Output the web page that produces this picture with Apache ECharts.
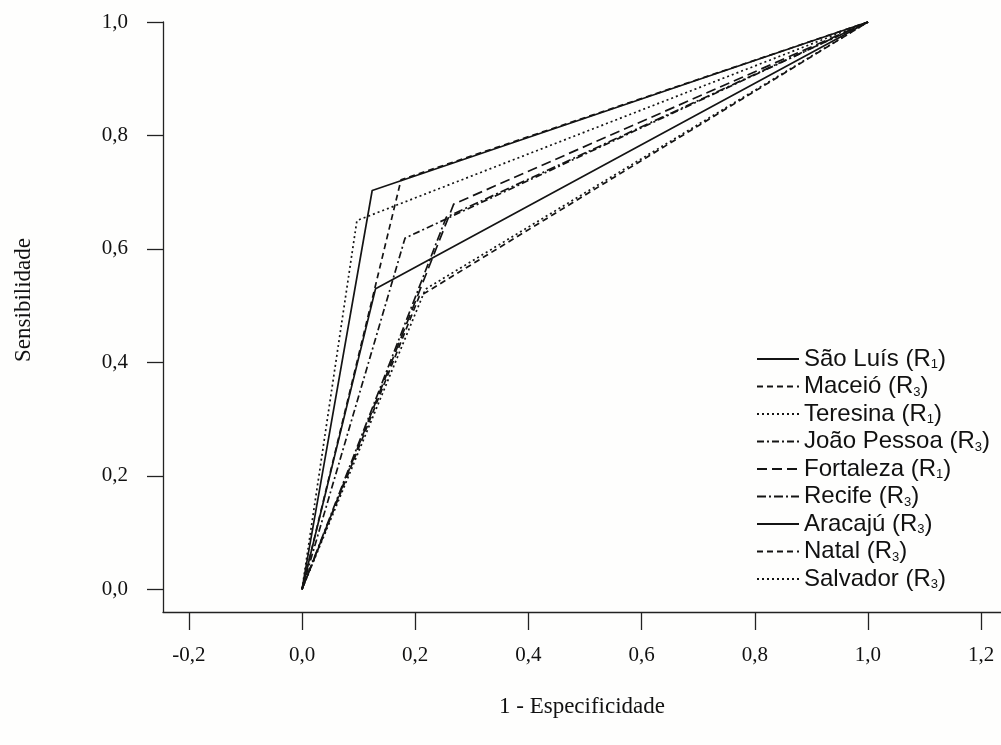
<!DOCTYPE html>
<html>
<head>
<meta charset="utf-8">
<script src="https://cdn.jsdelivr.net/npm/echarts@6/dist/echarts.min.js"></script>
<style>
  html, body { margin: 0; padding: 0; background: #fefefd; }
  #chart { width: 1001px; height: 745px; }
</style>
</head>
<body>
<div id="chart"></div>
<script>
// ROC curves (one cut-off point each) per capital city
const cities = ['São Luís', 'Maceió', 'Teresina', 'João Pessoa', 'Fortaleza', 'Recife', 'Aracajú', 'Natal', 'Salvador'];
const regionIndex = ['1', '3', '1', '3', '1', '3', '3', '3', '3'];
const oneMinusSpecificity = [0.124, 0.175, 0.097, 0.182, 0.268, 0.255, 0.130, 0.207, 0.218];
const sensitivity = [0.703, 0.722, 0.650, 0.619, 0.679, 0.656, 0.530, 0.516, 0.529];
const xTicks = [-0.2, 0.0, 0.2, 0.4, 0.6, 0.8, 1.0, 1.2];
const yTicks = [0.0, 0.2, 0.4, 0.6, 0.8, 1.0];

// line dash pattern per city
const dashes = [
  'solid',
  [6, 4],
  [2, 3],
  [7, 3, 2, 3],
  [10, 5],
  [9, 3, 2, 3],
  'solid',
  [6, 4],
  [2, 3]
];

const ink = '#141414';
const comma = v => v.toFixed(1).replace('.', ',');

const series = cities.map((c, i) => ({
  name: c + ' (R' + regionIndex[i] + ')',
  type: 'line',
  symbol: 'none',
  animation: false,
  lineStyle: { color: ink, width: 1.7, type: dashes[i] },
  itemStyle: { color: ink },
  data: [[0, 0], [oneMinusSpecificity[i], sensitivity[i]], [1, 1]]
}));

const chart = echarts.init(document.getElementById('chart'), null, { renderer: 'canvas' });
chart.setOption({
  backgroundColor: '#fefefd',
  animation: false,
  grid: { left: 163, right: 0, top: 22, bottom: 133, containLabel: false },
  xAxis: {
    type: 'value',
    min: -0.2456,
    max: 1.235,
    name: '1 - Especificidade',
    nameLocation: 'middle',
    nameGap: 83,
    nameTextStyle: { fontFamily: 'Liberation Serif', fontSize: 23, color: '#111' },
    axisLine: { show: true, onZero: false, lineStyle: { color: '#222', width: 1.3 } },
    axisTick: { show: true, customValues: xTicks, length: 18, lineStyle: { color: '#222', width: 1.3 } },
    axisLabel: { customValues: xTicks, formatter: comma, margin: 33, fontFamily: 'Liberation Serif', fontSize: 21, color: '#111' },
    splitLine: { show: false }
  },
  yAxis: {
    type: 'value',
    min: -0.04,
    max: 1.0,
    name: 'Sensibilidade',
    nameLocation: 'middle',
    nameGap: 128,
    nameTextStyle: { fontFamily: 'Liberation Serif', fontSize: 23, color: '#111', padding: [0, 0, 0, 34] },
    axisLine: { show: true, onZero: false, lineStyle: { color: '#222', width: 1.3 } },
    axisTick: { show: true, customValues: yTicks, length: 16, lineStyle: { color: '#222', width: 1.3 } },
    axisLabel: { customValues: yTicks, formatter: comma, margin: 35, fontFamily: 'Liberation Serif', fontSize: 21, color: '#111' },
    splitLine: { show: false }
  },
  legend: {
    orient: 'vertical',
    left: 756,
    top: 347,
    padding: 0,
    itemWidth: 42,
    itemHeight: 12,
    itemGap: 3.5,
    align: 'left',
    itemStyle: { opacity: 0 },
    data: series.map(s => s.name),
    formatter: name => name.replace(/\(R(\d)\)$/, '(R{sub|$1})'),
    textStyle: {
      fontFamily: 'Liberation Sans',
      fontSize: 24,
      color: '#111',
      lineHeight: 24,
      padding: 0,
      rich: {
        sub: { fontFamily: 'Liberation Sans', fontSize: 13, lineHeight: 24, verticalAlign: 'bottom', padding: [9, 0, 0, 0], color: '#111' }
      }
    }
  },
  series: series
});
</script>
</body>
</html>
